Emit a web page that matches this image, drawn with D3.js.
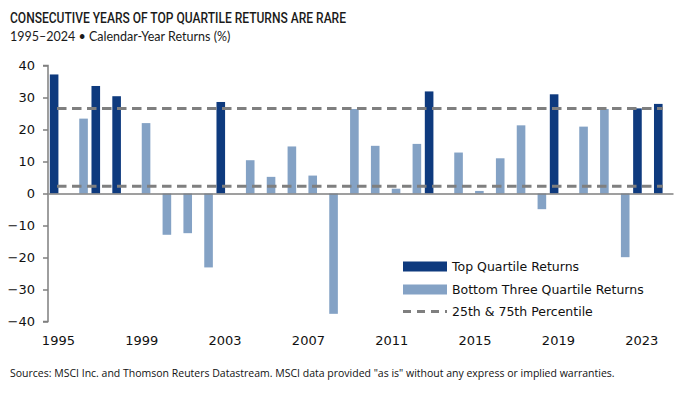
<!DOCTYPE html>
<html><head><meta charset="utf-8">
<script src="https://cdn.jsdelivr.net/npm/d3@7"></script>
<style>body{margin:0;background:#fff}svg{display:block}</style>
</head><body>
<svg id="c" width="696" height="395"></svg>
<script>
const years = d3.range(1995, 2025);
const returns = [37.2,23.4,33.6,30.4,22.0,-12.9,-12.4,-23.1,28.6,10.4,5.2,14.7,5.6,-37.6,26.4,14.9,1.5,15.5,31.9,12.8,0.8,11.0,21.3,-4.9,31.0,20.9,26.4,-19.9,26.6,28.0];
const topYears = [1995,1997,1998,2003,2013,2019,2023,2024];
const percentiles = [2.25, 26.6];
const yTicks = [-40,-30,-20,-10,0,10,20,30,40];
const xTickYears = [1995,1999,2003,2007,2011,2015,2019,2023];
const legendItems = ["Top Quartile Returns","Bottom Three Quartile Returns","25th & 75th Percentile"];

const dark = "#0e3a7e", light = "#84a2c5", gray = "#7f7f7f";
const svg = d3.select("#c");
const x = d3.scaleBand().domain(years).range([48, 673]);
const y = d3.scaleLinear().domain([-40, 40]).range([321.5, 65.5]);

svg.append("text").attr("x",10).attr("y",22.5).attr("font-family","Roboto").attr("font-weight",500)
  .attr("font-size",14).attr("fill","#1a1a1a").attr("textLength",336).attr("lengthAdjust","spacingAndGlyphs")
  .text("CONSECUTIVE YEARS OF TOP QUARTILE RETURNS ARE RARE");
svg.append("text").attr("x",10).attr("y",41).attr("font-family","Lato").attr("font-size",12.5)
  .attr("fill","#1a1a1a").text("1995–2024 • Calendar-Year Returns (%)");

const bw = 8.6;
const rows = years.map((yr,i)=>({yr, v:returns[i], top: topYears.includes(yr)}));
svg.append("g").selectAll("rect").data(rows).join("rect")
  .attr("x", d => x(d.yr) + x.bandwidth()/2 - (d.top ? bw : 0))
  .attr("width", bw)
  .attr("y", d => y(Math.max(0,d.v)))
  .attr("height", d => Math.abs(y(d.v)-y(0)))
  .attr("fill", d => d.top ? dark : light);

// axes
const yAxis = svg.append("g").attr("transform","translate(48,0)")
  .call(d3.axisLeft(y).tickValues(yTicks).tickSize(5).tickPadding(8));
const xAxis = svg.append("g").attr("transform",`translate(0,${y(0)})`)
  .call(d3.axisBottom(x).tickValues([]).tickSize(0));
[yAxis, xAxis].forEach(g=>{
  g.select(".domain").attr("stroke",gray).attr("stroke-width",1.5);
  g.selectAll(".tick line").attr("stroke",gray).attr("stroke-width",1.5);
  g.selectAll("text").attr("font-family","DejaVu Sans").attr("font-size",13).attr("fill","#111");
});
yAxis.select(".domain").attr("d","M-5,65.5H0V321.5H-5");
svg.append("g").selectAll("text").data(xTickYears).join("text")
  .attr("x", d => x(d) + x.bandwidth()/2).attr("y", 345).attr("text-anchor","middle")
  .attr("font-family","DejaVu Sans").attr("font-size",13).attr("fill","#111").text(d=>d);

// percentile lines
svg.append("g").selectAll("line").data(percentiles).join("line")
  .attr("x1",57).attr("x2",663).attr("y1",d=>y(d)).attr("y2",d=>y(d))
  .attr("stroke",gray).attr("stroke-width",3).attr("stroke-dasharray","9.5,5.5");

// legend
const lg = svg.append("g");
const ly = [266.5, 289.5, 311.5];
lg.append("rect").attr("x",403).attr("y",ly[0]-5).attr("width",44).attr("height",10).attr("fill",dark);
lg.append("rect").attr("x",403).attr("y",ly[1]-5).attr("width",44).attr("height",10).attr("fill",light);
lg.append("line").attr("x1",403).attr("x2",447).attr("y1",ly[2]).attr("y2",ly[2])
  .attr("stroke",gray).attr("stroke-width",3).attr("stroke-dasharray","8,6");
lg.selectAll("text").data(legendItems).join("text")
  .attr("x",452).attr("y",(d,i)=>ly[i]+4.5).attr("font-family","DejaVu Sans").attr("font-size",12.5)
  .attr("fill","#111").text(d=>d);

svg.append("text").attr("x",10).attr("y",377).attr("font-family","Open Sans").attr("font-size",10.5)
  .attr("fill","#111").text('Sources: MSCI Inc. and Thomson Reuters Datastream. MSCI data provided "as is" without any express or implied warranties.');
</script>
</body></html>
